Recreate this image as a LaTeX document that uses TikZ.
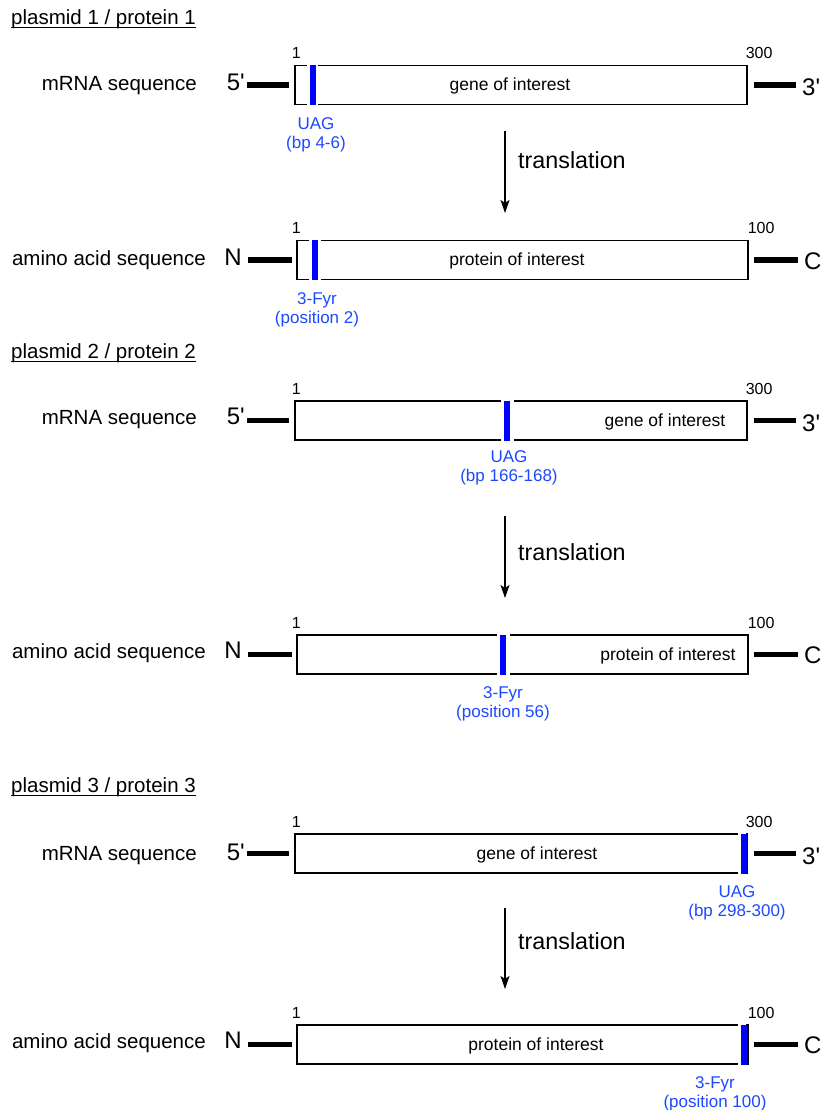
\documentclass[tikz,border=0pt]{standalone}
\usepackage{fontspec}
\setmainfont{Liberation Sans}
\usetikzlibrary{arrows.meta, positioning}
\definecolor{codonblue}{RGB}{0,0,255}
\definecolor{tagblue}{RGB}{28,72,255}

\begin{document}
\begin{tikzpicture}[x=1pt, y=-1pt,
    seqbox/.style={draw, line width=1.2pt, minimum height=39pt, inner sep=0pt},
    gapbox/.style={fill=white, minimum height=42pt, inner sep=0pt},
    codon/.style={fill=codonblue, minimum width=6pt, minimum height=40pt, inner sep=0pt},
    side/.style={inner sep=0pt, anchor=base east, font=\fontsize{20.5}{24}\selectfont},
    endlbl/.style={inner sep=0pt, font=\fontsize{24}{28}\selectfont},
    num/.style={inner sep=0pt, font=\fontsize{16}{19}\selectfont},
    inlbl/.style={inner sep=0pt, anchor=base, font=\fontsize{17.5}{21}\selectfont},
    tag/.style={inner sep=0pt, anchor=north, align=center, text=tagblue, font=\fontsize{17}{19.5}\selectfont},
    tail/.style={line width=5.5pt},
    arr/.style={line width=1.3pt, -{Stealth[length=13pt, width=9pt, inset=3pt]}},
    trans/.style={inner sep=0pt, anchor=base west, font=\fontsize{23.3}{27}\selectfont},
    title/.style={inner sep=0pt, anchor=base west, font=\fontsize{20.5}{24}\selectfont}
  ]
  \useasboundingbox (0,0) rectangle (821,1110);

  % Titel
  \foreach \i/\y in {1/25, 2/358.5, 3/792} {
    \node[title] (tt\i) at (11,\y) {plasmid \i{} / protein \i};
    \draw[line width=1pt] ([yshift=-3pt]tt\i.base west) -- ([yshift=-3pt]tt\i.base east);
  }

  % mRNA-Zeilen
  \foreach \i/\y/\b/\gx/\txt in {1/85/91/510/gene of interest, 2/420.5/424/665/gene of interest, 3/853.5/860/537/gene of interest} {
    \node[seqbox, minimum width=452pt] (m\i) at (521,\y) {};
    \node[side] (ms\i) at (197,\b) {mRNA sequence};
    \node[endlbl, anchor=base east] (f\i) at (245,\b) {5\textquotesingle};
    \node[endlbl, anchor=base west] (r\i) at (802,\y+10.5) {3\textquotesingle};
    \node[inlbl] (mt\i) at (\gx,\y+5.5) {\txt};
    \node[num, anchor=base] (ma\i) at ([xshift=2pt,yshift=6pt]m\i.north west) {1};
    \node[num, anchor=base west] (mb\i) at ([xshift=-2pt,yshift=6pt]m\i.north east) {300};
    \draw[tail, shorten <=2pt, shorten >=5pt] (f\i.east |- m\i.west) -- (m\i.west);
    \draw[tail, shorten <=6pt, shorten >=6pt] (m\i.east) -- (r\i.west |- m\i.east);
  }

  % Protein-Zeilen
  \foreach \i/\y/\b/\gx in {1/260/265/517, 2/654.5/658.5/668, 3/1044.5/1048.5/536} {
    \node[seqbox, minimum width=451pt] (p\i) at (522.5,\y) {};
    \node[side] (ps\i) at (206,\b) {amino acid sequence};
    \node[endlbl, anchor=base east] (n\i) at (242,\b) {N};
    \node[endlbl, anchor=base west] (c\i) at (804,\y+9) {C};
    \node[inlbl] (pt\i) at (\gx,\y+5.5) {protein of interest};
    \node[num, anchor=base] (pa\i) at ([xshift=0pt,yshift=6pt]p\i.north west) {1};
    \node[num, anchor=base west] (pb\i) at ([xshift=-1pt,yshift=6pt]p\i.north east) {100};
    \draw[tail, shorten <=6pt, shorten >=4pt] (n\i.east |- p\i.west) -- (p\i.west);
    \draw[tail, shorten <=5pt, shorten >=6pt] (p\i.east) -- (c\i.west |- p\i.east);
  }

  % UAG / 3-Fyr
  \foreach \n/\x/\y/\gx/\gw in {m1/313/85/312.5/11, p1/315/260/315/12, m2/507/420.5/507/13,
                               p2/503/654.5/503/13, m3/744/853.5/742/8, p3/744/1044.5/742/8} {
    \node[gapbox, minimum width=\gw] (g\n) at (\gx,\y) {};
    \node[codon] (u\n) at (\x,\y) {};
  }
  \node[tag] (tm1) at (316,117) {UAG\\(bp 4-6)};
  \node[tag] (tp1) at (317,292) {3-Fyr\\(position 2)};
  \node[tag] (tm2) at (509,450) {UAG\\(bp 166-168)};
  \node[tag] (tp2) at (503,686) {3-Fyr\\(position 56)};
  \node[tag] (tm3) at (737,885) {UAG\\(bp 298-300)};
  \node[tag] (tp3) at (715,1076) {3-Fyr\\(position 100)};

  % Translation
  \foreach \i/\ya/\yb/\b in {1/131/213/169, 2/516/598/560, 3/908/989/949} {
    \coordinate (as\i) at (505,\ya);
    \coordinate (ae\i) at (505,\yb);
    \draw[arr] (as\i) -- (ae\i);
    \node[trans] (tr\i) at (518,\b) {translation};
  }
\end{tikzpicture}
\end{document}
